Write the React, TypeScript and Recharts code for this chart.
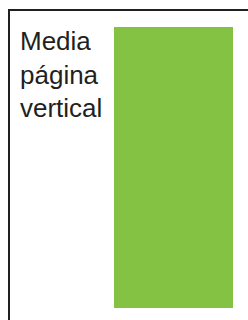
import { BarChart, Bar, XAxis, YAxis, Customized } from "recharts";

const categories = ["Media página vertical"];
const values = [100];

const data = categories.map((name, i) => ({ name, value: values[i] }));

const SideLabel = () => {
  const words = categories[0].split(" ");
  return (
    <text
      x={20}
      y={50}
      fontFamily="'Liberation Sans', Arial, sans-serif"
      fontSize={26}
      fill="#231f20"
    >
      {words.map((w, i) => (
        <tspan key={w} x={20} y={50 + i * 33.5}>
          {w}
        </tspan>
      ))}
    </text>
  );
};

export default function App() {
  return (
    <div
      style={{
        position: "fixed",
        left: 0,
        top: 0,
        width: 248,
        height: 320,
        overflow: "hidden",
        background: "#fff",
      }}
    >
      <div
        style={{
          position: "absolute",
          left: 8,
          top: 9,
          width: 300,
          height: 400,
          border: "2px solid #231f20",
        }}
      />
      <div style={{ position: "absolute", left: 0, top: 0 }}>
        <BarChart
          width={248}
          height={320}
          data={data}
          margin={{ top: 27, right: 15, bottom: 12, left: 114 }}
          barCategoryGap={0}
        >
          <XAxis dataKey="name" hide />
          <YAxis hide domain={[0, 100]} />
          <Bar dataKey="value" fill="#84c244" isAnimationActive={false} />
          <Customized component={SideLabel} />
        </BarChart>
      </div>
    </div>
  );
}
